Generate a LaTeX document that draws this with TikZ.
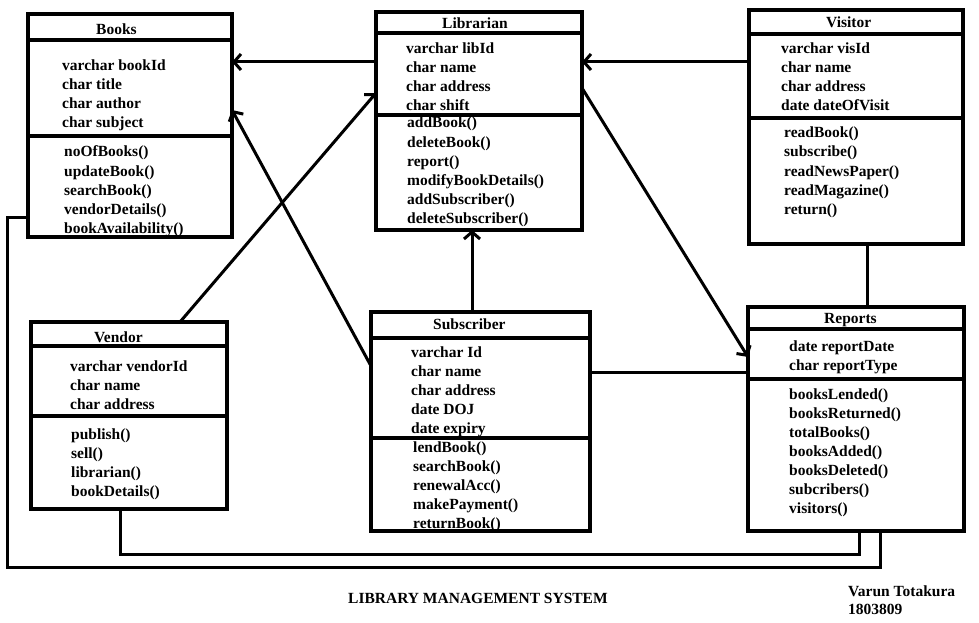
\documentclass[tikz,border=0pt]{standalone}
\usepackage{fontspec}
\setmainfont{Liberation Serif}
\usetikzlibrary{arrows.meta}
\newcommand\txtlines[4]{%
  \foreach \t [count=\i from 0] in {#4} \node[txt] (#1\i) at (#2,{#3+19*\i}) {\t};}
\begin{document}
\begin{tikzpicture}[x=1pt,y=-1pt,
  box/.style={draw,line width=3.5pt,rectangle,inner sep=0pt,outer sep=0pt,anchor=north west},
  sep/.style={line width=3.5pt},
  txt/.style={inner sep=0pt,anchor=base west,font=\fontsize{15.5}{19}\selectfont\bfseries},
  arr/.style={line width=3pt,-{Straight Barb[length=7pt,width=16pt]}},
  conn/.style={line width=3pt}]
\fill[white] (0,0) rectangle (979,623);
\useasboundingbox (0,0) rectangle (979,623);
% boxes
\node[box,minimum width=204pt,minimum height=223pt] (books) at (28,14) {};
\node[box,minimum width=206pt,minimum height=218pt] (librarian) at (376,12) {};
\node[box,minimum width=214pt,minimum height=234pt] (visitor) at (749,10) {};
\node[box,minimum width=196pt,minimum height=187pt] (vendor) at (31,322) {};
\node[box,minimum width=219pt,minimum height=219pt] (subscriber) at (371,312) {};
\node[box,minimum width=216pt,minimum height=224pt] (reports) at (748,307) {};
% compartment lines
\draw[sep] (books.west |- 0,40) -- (books.east |- 0,40);
\draw[sep] (books.west |- 0,136) -- (books.east |- 0,136);
\draw[sep] (librarian.west |- 0,33) -- (librarian.east |- 0,33);
\draw[sep] (librarian.west |- 0,115) -- (librarian.east |- 0,115);
\draw[sep] (visitor.west |- 0,34) -- (visitor.east |- 0,34);
\draw[sep] (visitor.west |- 0,118) -- (visitor.east |- 0,118);
\draw[sep] (vendor.west |- 0,346) -- (vendor.east |- 0,346);
\draw[sep] (vendor.west |- 0,416) -- (vendor.east |- 0,416);
\draw[sep] (subscriber.west |- 0,338) -- (subscriber.east |- 0,338);
\draw[sep] ([xshift=-2pt]subscriber.west |- 0,438) -- ([xshift=2pt]subscriber.east |- 0,438);
\draw[sep] (reports.west |- 0,329) -- (reports.east |- 0,329);
\draw[sep] (reports.west |- 0,379) -- (reports.east |- 0,379);
% texts
\node[txt] (books-t) at (96,35) {Books};
\txtlines{books-a}{62}{71}{varchar bookId,char title,char author,char subject}
\txtlines{books-m}{64}{157}{noOfBooks(),updateBook(),searchBook(),vendorDetails(),bookAvailability()}
\node[txt] (librarian-t) at (442,29) {Librarian};
\txtlines{librarian-a}{406}{54}{varchar libId,char name,char address,char shift}
\txtlines{librarian-m}{407}{128}{addBook(),deleteBook(),report(),modifyBookDetails(),addSubscriber(),deleteSubscriber()}
\node[txt] (visitor-t) at (826,28) {Visitor};
\txtlines{visitor-a}{781}{54}{varchar visId,char name,char address,date dateOfVisit}
\txtlines{visitor-m}{784}{138}{readBook(),subscribe(),readNewsPaper(),readMagazine(),return()}
\node[txt] (vendor-t) at (94,342) {Vendor};
\txtlines{vendor-a}{70}{371}{varchar vendorId,char name,char address}
\txtlines{vendor-m}{71}{439}{publish(),sell(),librarian(),bookDetails()}
\node[txt] (subscriber-t) at (433,329) {Subscriber};
\txtlines{subscriber-a}{411}{357}{varchar Id,char name,char address,date DOJ,date expiry}
\txtlines{subscriber-m}{413}{452}{lendBook(),searchBook(),renewalAcc(),makePayment(),returnBook()}
\node[txt] (reports-t) at (824,323) {Reports};
\txtlines{reports-a}{789}{351}{date reportDate,char reportType}
\txtlines{reports-m}{789}{399}{booksLended(),booksReturned(),totalBooks(),booksAdded(),booksDeleted(),subcribers(),visitors()}
\node[txt] (title) at (348,603) {LIBRARY MANAGEMENT SYSTEM};
\node[txt] (author) at (848,596) {Varun Totakura};
\node[txt] (rollno) at (848,614) {1803809};
% connectors
\draw[arr] (librarian.west |- 0,62) -- (books.east |- 0,62);
\draw[arr] (visitor.west |- 0,62) -- (librarian.east |- 0,62);
\draw[arr] (vendor.north -| 180,0) -- (librarian.west |- 0,93);
\draw[arr] (subscriber.west |- 0,366) -- (books.east |- 0,110);
\draw[arr] (subscriber.north -| 472,0) -- (librarian.south -| 472,0);
\draw[arr] (librarian.east |- 0,88) -- (reports.west |- 0,357);
\draw[conn] (subscriber.east |- 0,372) -- (reports.west |- 0,372);
\draw[conn] (visitor.south -| 867,0) -- (reports.north -| 867,0);
\coordinate (vendorturn) at (120,554);
\draw[conn] (vendor.south -| vendorturn) -- (vendorturn) -| (reports.south -| 859,0);
\coordinate (booksturn) at (7,567);
\draw[conn] (books.west |- 0,217) -| (booksturn) -| (reports.south -| 880,0);
\end{tikzpicture}
\end{document}
